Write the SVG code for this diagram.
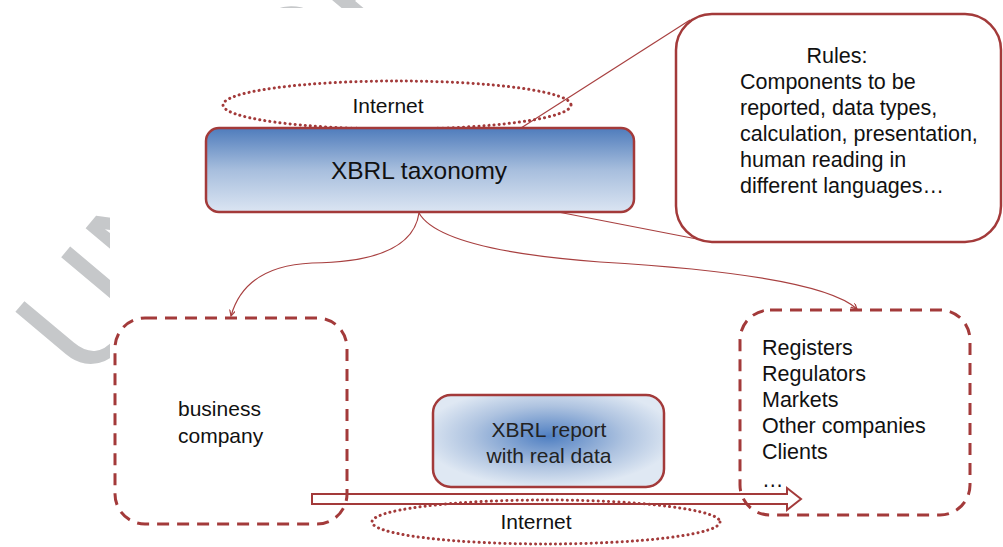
<svg xmlns="http://www.w3.org/2000/svg" width="1003" height="547" viewBox="0 0 1003 547">
<defs>
<style>
.t{font-family:"Liberation Sans",Arial,sans-serif;fill:#111;}
.box{stroke:#a33a3a;stroke-width:2.5;}
.dash{fill:none;stroke:#a33a3a;stroke-width:3;stroke-dasharray:12 8;}
.dot{fill:none;stroke:#a33a3a;stroke-width:3;stroke-dasharray:0.1 5;stroke-linecap:round;}
.con{fill:none;stroke:#a84040;stroke-width:1.2;}
</style>
<linearGradient id="gTax" x1="0" y1="0" x2="0" y2="1">
<stop offset="0" stop-color="#4f7cbc"/>
<stop offset="0.5" stop-color="#a7bedd"/>
<stop offset="1" stop-color="#dbe5f2"/>
</linearGradient>
<radialGradient id="gRep" cx="0.5" cy="0.45" r="0.55">
<stop offset="0" stop-color="#4f7fc2"/>
<stop offset="0.6" stop-color="#aec3e0"/>
<stop offset="1" stop-color="#dfe8f3"/>
</radialGradient>
<marker id="ah" markerWidth="8" markerHeight="8" refX="6" refY="3" orient="auto" markerUnits="userSpaceOnUse">
<path d="M0,0 L6,3 L0,6" fill="none" stroke="#a84040" stroke-width="1.2"/>
</marker>
<clipPath id="wmClip"><path d="M0,0H1003V8H110V547H0Z"/></clipPath>
</defs>
<rect width="1003" height="547" fill="#fff"/>
<g id="watermark" clip-path="url(#wmClip)">
<text class="t" x="0" y="0" font-size="150" fill="#c6c8ca" style="fill:#c6c8ca" transform="translate(87,387) rotate(-50)">UNCORRECTED PROOF</text>
</g>
<g id="connectors">
<line class="con" x1="521" y1="128" x2="690" y2="20"/>
<line class="con" x1="558" y1="212" x2="702" y2="240"/>
<path class="con" d="M419,213 Q412,262 312,263 Q245,266 231,316" marker-end="url(#ah)"/>
<path class="con" d="M419,213 Q440,250 600,262 Q820,275 857,309" marker-end="url(#ah)"/>
<polygon points="312,494 787,494 787,488 801,499 787,510 787,504 312,504" fill="#fff" stroke="#a33a3a" stroke-width="2"/>
</g>
<g id="internet-top">
<ellipse class="dot" cx="397" cy="105" rx="174" ry="24"/>
<text class="t" x="388" y="113" font-size="21" text-anchor="middle">Internet</text>
</g>
<g id="taxonomy">
<rect class="box" x="206" y="128" width="428" height="84" rx="13" fill="url(#gTax)"/>
<text class="t" x="419" y="179" font-size="24.5" text-anchor="middle">XBRL taxonomy</text>
</g>
<g id="rules">
<rect class="box" x="676" y="14" width="325" height="228" rx="36" fill="#fff"/>
<text class="t" font-size="21.5">
<tspan x="840" y="63" text-anchor="middle">Rules:</tspan>
<tspan x="740" y="89">Components to be</tspan>
<tspan x="740" y="115">reported, data types,</tspan>
<tspan x="740" y="141">calculation, presentation,</tspan>
<tspan x="740" y="167">human reading in</tspan>
<tspan x="740" y="193">different languages…</tspan>
</text>
</g>
<g id="business">
<rect class="dash" x="115" y="318" width="232" height="206" rx="30"/>
<text class="t" font-size="21"><tspan x="178" y="416">business</tspan><tspan x="178" y="443">company</tspan></text>
</g>
<g id="report">
<rect class="box" x="433" y="395" width="231" height="92" rx="18" fill="url(#gRep)"/>
<text class="t" font-size="21" text-anchor="middle" style="fill:#222"><tspan x="549" y="437">XBRL report</tspan><tspan x="549" y="463">with real data</tspan></text>
</g>
<g id="receivers">
<rect class="dash" x="740" y="310" width="230" height="205" rx="30"/>
<text class="t" font-size="21.5">
<tspan x="762" y="355">Registers</tspan>
<tspan x="762" y="381">Regulators</tspan>
<tspan x="762" y="407">Markets</tspan>
<tspan x="762" y="433">Other companies</tspan>
<tspan x="762" y="459">Clients</tspan>
<tspan x="762" y="487">…</tspan>
</text>
</g>
<g id="internet-bottom">
<ellipse class="dot" cx="546" cy="522" rx="174" ry="22"/>
<text class="t" x="536" y="529" font-size="21" text-anchor="middle">Internet</text>
</g>
</svg>
